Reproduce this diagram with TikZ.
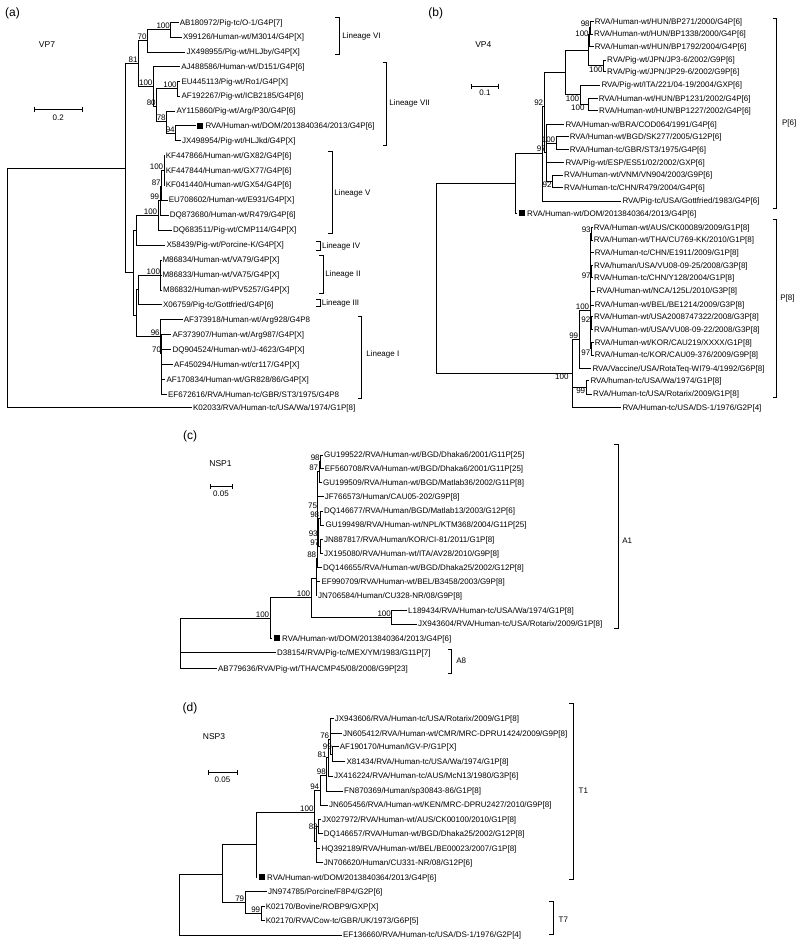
\documentclass[tikz,border=0pt]{standalone}
\usepackage{fontspec}
\setmainfont{Liberation Sans}
\newcommand{\dom}{\rule{6pt}{6pt}\hspace{2.5pt}}

\begin{document}
\begin{tikzpicture}[x=1pt, y=-1pt, line width=0.7pt,
    leaf/.style={anchor=west, inner xsep=1pt, inner ysep=0pt, text height=6pt, text depth=0.5pt, font=\fontsize{8}{9.6}\selectfont},
    bs/.style={inner sep=0.5pt, font=\fontsize{8}{9.6}\selectfont},
    grp/.style={anchor=west, inner sep=0pt, font=\fontsize{8}{9.6}\selectfont},
    gene/.style={inner sep=0pt, font=\fontsize{8.5}{10}\selectfont},
    panel/.style={inner sep=0pt, font=\fontsize{12}{14}\selectfont}]
    \useasboundingbox (0,0) rectangle (800,945);

    % (a) VP7
    \node[panel] (pa) at (12.5,13.3) {(a)};
    \node[gene] (ga) at (47,45) {VP7};
    \draw (34,106.5) -- (34,111.5) (34,109) -- (82,109) (82,106.5) -- (82,111.5);
    \node[bs] (sa) at (58.3,117.3) {0.2};

    \node[leaf] (a01) at (178.5,22.5) {AB180972/Pig-tc/O-1/G4P[7]};
    \node[leaf] (a02) at (181.8,37) {X99126/Human-wt/M3014/G4P[X]};
    \node[leaf] (a03) at (185.2,52) {JX498955/Pig-wt/HLJby/G4P[X]};
    \node[leaf] (a04) at (180,66.7) {AJ488586/Human-wt/D151/G4P[6]};
    \node[leaf] (a05) at (180.2,81.3) {EU445113/Pig-wt/Ro1/G4P[X]};
    \node[leaf] (a06) at (180.2,96.2) {AF192267/Pig-wt/ICB2185/G4P[6]};
    \node[leaf] (a07) at (175.2,111) {AY115860/Pig-wt/Arg/P30/G4P[6]};
    \node[leaf] (a08) at (195.7,125.8) {\dom RVA/Human-wt/DOM/2013840364/2013/G4P[6]};
    \node[leaf] (a09) at (180.8,140.7) {JX498954/Pig-wt/HLJkd/G4P[X]};
    \node[leaf] (a10) at (164.5,155.5) {KF447866/Human-wt/GX82/G4P[6]};
    \node[leaf] (a11) at (164.5,170.3) {KF447844/Human-wt/GX77/G4P[6]};
    \node[leaf] (a12) at (164.5,185) {KF041440/Human-wt/GX54/G4P[6]};
    \node[leaf] (a13) at (167.5,200) {EU708602/Human-wt/E931/G4P[X]};
    \node[leaf] (a14) at (168.5,215) {DQ873680/Human-wt/R479/G4P[6]};
    \node[leaf] (a15) at (171.8,230) {DQ683511/Pig-wt/CMP114/G4P[X]};
    \node[leaf] (a16) at (165.2,245) {X58439/Pig-wt/Porcine-K/G4P[X]};
    \node[leaf] (a17) at (161.2,260) {M86834/Human-wt/VA79/G4P[X]};
    \node[leaf] (a18) at (161.2,275) {M86833/Human-wt/VA75/G4P[X]};
    \node[leaf] (a19) at (161.8,290) {M86832/Human-wt/PV5257/G4P[X]};
    \node[leaf] (a20) at (161.8,304.3) {X06759/Pig-tc/Gottfried/G4P[6]};
    \node[leaf] (a21) at (182.5,319.3) {AF373918/Human-wt/Arg928/G4P8};
    \node[leaf] (a22) at (171.2,334.3) {AF373907/Human-wt/Arg987/G4P[X]};
    \node[leaf] (a23) at (171.2,349.3) {DQ904524/Human-wt/J-4623/G4P[X]};
    \node[leaf] (a24) at (172.8,364.3) {AF450294/Human-wt/cr117/G4P[X]};
    \node[leaf] (a25) at (165.2,379.3) {AF170834/Human-wt/GR828/86/G4P[X]};
    \node[leaf] (a26) at (166.8,394.3) {EF672616/RVA/Human-tc/GBR/ST3/1975/G4P8};
    \node[leaf] (a27) at (191.8,407.7) {K02033/RVA/Human-tc/USA/Wa/1974/G1P[8]};

    \coordinate (ra) at (7.3,290);
    \coordinate (a0) at (125,168);
    \coordinate[label={[bs]above left:81}] (a81) at (138.3,63);
    \coordinate[label={[bs]above left:70}] (a70) at (147.3,40);
    \coordinate[label={[bs]above left:100}] (a100a) at (170.7,29.7);
    \coordinate[label={[bs]above left:100}] (a100b) at (153.3,86);
    \coordinate[label={[bs]above left:80}] (a80) at (156.5,106);
    \coordinate[label={[bs]above left:100}] (a100c) at (177.5,88.8);
    \coordinate[label={[bs]above left:78}] (a78) at (166.5,121.5);
    \coordinate[label={[bs]above left:94}] (a94) at (175.5,133.2);
    \coordinate (aLo) at (133.3,272.8);
    \coordinate (aG) at (136.7,230);
    \coordinate[label={[bs]above left:100}] (aV) at (158,215);
    \coordinate[label={[bs]above left:99}] (aV99) at (160,200);
    \coordinate[label={[bs]above left:87}] (aV87) at (161.5,186);
    \coordinate[label={[bs]above left:100}] (aV100) at (164,170);
    \coordinate (aH) at (136.7,315.5);
    \coordinate (aJ) at (138.3,289.5);
    \coordinate[label={[bs]above left:100}] (aII) at (160.8,275);
    \coordinate[label={[bs]above left:96}] (aI) at (160.5,336.2);
    \coordinate[label={[bs]above left:70}] (aI70) at (161.8,353);

    \draw (ra) |- (a0) (ra) |- (a27);
    \draw (a0) |- (a81) (a0) |- (aLo);
    \draw (a81) |- (a70) (a81) |- (a100b);
    \draw (a70) |- (a100a) (a70) |- (a03);
    \draw (a100a) |- (a01) (a100a) |- (a02);
    \draw (a100b) |- (a04) (a100b) |- (a80);
    \draw (a80) |- (a100c) (a80) |- (a78);
    \draw (a100c) |- (a05) (a100c) |- (a06);
    \draw (a78) |- (a07) (a78) |- (a94);
    \draw (a94) |- (a08) (a94) |- (a09);
    \draw (aLo) |- (aG) (aLo) |- (aH);
    \draw (aG) |- (aV) (aG) |- (a16);
    \draw (aV) |- (aV99) (aV) |- (a15);
    \draw (aV99) |- (aV87) (aV99) |- (a14);
    \draw (aV87) |- (aV100) (aV87) |- (a13);
    \draw (aV100) |- (a10) (aV100) |- (a11) (aV100) |- (a12);
    \draw (aH) |- (aJ) (aH) |- (aI);
    \draw (aJ) |- (aII) (aJ) |- (a20);
    \draw (aII) |- (a17) (aII) |- (a18) (aII) |- (a19);
    \draw (aI) |- (a21) (aI) |- (aI70);
    \draw (aI70) |- (a22) (aI70) |- (a23) (aI70) |- (a24) (aI70) |- (a25) (aI70) |- (a26);

    \draw (335.3,17.3) -| (339.3,54) -- (335.3,54);
    \node[grp] (lin6) at (342,36.7) {Lineage VI};
    \draw (382.7,62) -| (386.7,145) -- (382.7,145);
    \node[grp] (lin7) at (389,103.3) {Lineage VII};
    \draw (328.3,151.7) -| (332.3,233.3) -- (328.3,233.3);
    \node[grp] (lin5) at (334,193.3) {Lineage V};
    \draw (316,241.7) -| (320,250) -- (316,250);
    \node[grp] (lin4) at (321.7,246) {Lineage IV};
    \draw (319.3,255.7) -| (323.3,293.3) -- (319.3,293.3);
    \node[grp] (lin2) at (325,274) {Lineage II};
    \draw (316,299.3) -| (320,306.7) -- (316,306.7);
    \node[grp] (lin3) at (321.5,303.3) {Lineage III};
    \draw (357.7,316.7) -| (361.7,398.3) -- (357.7,398.3);
    \node[grp] (lin1) at (366,354.3) {Lineage I};

    % (b) VP4
    \node[panel] (pb) at (435.8,13) {(b)};
    \node[gene] (gb) at (483.3,45) {VP4};
    \draw (471.7,83.5) -- (471.7,88.5) (471.7,86) -- (498.3,86) (498.3,83.5) -- (498.3,88.5);
    \node[bs] (sb) at (485,92.7) {0.1};

    \node[leaf] (b01) at (593.5,21.7) {RVA/Human-wt/HUN/BP271/2000/G4P[6]};
    \node[leaf] (b02) at (592.8,34) {RVA/Human-wt/HUN/BP1338/2000/G4P[6]};
    \node[leaf] (b03) at (593.5,46.7) {RVA/Human-wt/HUN/BP1792/2004/G4P[6]};
    \node[leaf] (b04) at (605.8,60) {RVA/Pig-wt/JPN/JP3-6/2002/G9P[6]};
    \node[leaf] (b05) at (605.8,71.7) {RVA/Pig-wt/JPN/JP29-6/2002/G9P[6]};
    \node[leaf] (b06) at (600.2,85) {RVA/Pig-wt/ITA/221/04-19/2004/GXP[6]};
    \node[leaf] (b07) at (597.5,98.3) {RVA/Human-wt/HUN/BP1231/2002/G4P[6]};
    \node[leaf] (b08) at (597.8,110.7) {RVA/Human-wt/HUN/BP1227/2002/G4P[6]};
    \node[leaf] (b09) at (564.2,124.3) {RVA/Human-w/BRA/COD064/1991/G4P[6]};
    \node[leaf] (b10) at (568.5,136.7) {RVA/Human-wt/BGD/SK277/2005/G12P[6]};
    \node[leaf] (b11) at (568.5,149.3) {RVA/Human-tc/GBR/ST3/1975/G4P[6]};
    \node[leaf] (b12) at (564.2,162.7) {RVA/Pig-wt/ESP/ES51/02/2002/GXP[6]};
    \node[leaf] (b13) at (562.8,175) {RVA/Human-wt/VNM/VN904/2003/G9P[6]};
    \node[leaf] (b14) at (562.8,187.7) {RVA/Human-tc/CHN/R479/2004/G4P[6]};
    \node[leaf] (b15) at (621.2,201) {RVA/Pig-tc/USA/Gottfried/1983/G4P[6]};
    \node[leaf] (b16) at (517.3,213.3) {\dom RVA/Human-wt/DOM/2013840364/2013/G4P[6]};
    \node[leaf] (b17) at (592.5,227.3) {RVA/Human-wt/AUS/CK00089/2009/G1P[8]};
    \node[leaf] (b18) at (592.5,240) {RVA/Human-wt/THA/CU769-KK/2010/G1P[8]};
    \node[leaf] (b19) at (593.5,252.7) {RVA/Human-tc/CHN/E1911/2009/G1P[8]};
    \node[leaf] (b20) at (592.8,265.7) {RVA/human/USA/VU08-09-25/2008/G3P[8]};
    \node[leaf] (b21) at (592.8,277.7) {RVA/Human-tc/CHN/Y128/2004/G1P[8]};
    \node[leaf] (b22) at (595.2,291) {RVA/Human-wt/NCA/125L/2010/G3P[8]};
    \node[leaf] (b23) at (593.5,305) {RVA/Human-wt/BEL/BE1214/2009/G3P[8]};
    \node[leaf] (b24) at (592.8,316.7) {RVA/Human-wt/USA2008747322/2008/G3P[8]};
    \node[leaf] (b25) at (592.8,329.3) {RVA/Human-wt/USA/VU08-09-22/2008/G3P[8]};
    \node[leaf] (b26) at (593.5,342.3) {RVA/Human-wt/KOR/CAU219/XXXX/G1P[8]};
    \node[leaf] (b27) at (593.5,355) {RVA/Human-tc/KOR/CAU09-376/2009/G9P[8]};
    \node[leaf] (b28) at (591.2,368.3) {RVA/Vaccine/USA/RotaTeq-WI79-4/1992/G6P[8]};
    \node[leaf] (b29) at (589.2,380.7) {RVA/human-tc/USA/Wa/1974/G1P[8]};
    \node[leaf] (b30) at (591.8,394) {RVA/Human-tc/USA/Rotarix/2009/G1P[8]};
    \node[leaf] (b31) at (621.2,407.3) {RVA/Human-tc/USA/DS-1/1976/G2P[4]};

    \coordinate (rb) at (436,278);
    \coordinate (bPD) at (515,183.3);
    \coordinate (bX) at (542.7,153.5);
    \coordinate[label={[bs]above left:92}] (b92) at (544,106);
    \coordinate (bA) at (565.7,72.7);
    \coordinate (bBJ) at (588,50);
    \coordinate[label={[bs]left:100}] (bBP) at (589.5,34.2);
    \coordinate[label={[bs]above left:98}] (b98) at (590.5,27.8);
    \coordinate[label={[bs]below left:100}] (bJP) at (603.3,65.8);
    \coordinate[label={[bs]below left:100}] (bITA) at (580,94.8);
    \coordinate[label={[bs,xshift=-3pt]below left:100}] (bBT) at (588.3,104.5);
    \coordinate[label={[bs]above left:97}] (b97) at (546.7,152.8);
    \coordinate[label={[bs]above left:100}] (bSK) at (556,143);
    \coordinate[label={[bs]below left:92}] (b92b) at (552.3,181.3);
    \coordinate[label={[bs,xshift=-3pt]below left:100}] (bP8) at (572.3,373);
    \coordinate[label={[bs]above left:99}] (b99) at (579,339.3);
    \coordinate[label={[bs]above left:100}] (bBig) at (590,310);
    \coordinate[label={[bs]above left:93}] (b93) at (591.5,233.6);
    \coordinate[label={[bs]below left:97}] (b97a) at (591.5,271.7);
    \coordinate[label={[bs]above left:92}] (b92c) at (591.2,323);
    \coordinate[label={[bs]below left:97}] (b97b) at (591.2,348.6);
    \coordinate[label={[bs]below left:99}] (bWR) at (586,387.3);

    \draw (rb) |- (bPD) (rb) |- (bP8);
    \draw (bPD) |- (bX) (bPD) |- (b16);
    \draw (bX) |- (b92) (bX) |- (b15);
    \draw (b92) |- (bA) (b92) |- (b97);
    \draw (bA) |- (bBJ) (bA) |- (bITA);
    \draw (bBJ) |- (bBP) (bBJ) |- (bJP);
    \draw (bBP) |- (b98) (bBP) |- (b03);
    \draw (b98) |- (b01) (b98) |- (b02);
    \draw (bJP) |- (b04) (bJP) |- (b05);
    \draw (bITA) |- (b06) (bITA) |- (bBT);
    \draw (bBT) |- (b07) (bBT) |- (b08);
    \draw (b97) |- (b09) (b97) |- (bSK) (b97) |- (b12) (b97) |- (b92b);
    \draw (bSK) |- (b10) (bSK) |- (b11);
    \draw (b92b) |- (b13) (b92b) |- (b14);
    \draw (bP8) |- (b99) (bP8) |- (bWR) (bP8) |- (b31);
    \draw (b99) |- (bBig) (b99) |- (b28);
    \draw (bBig) |- (b93) (bBig) |- (b19) (bBig) |- (b97a) (bBig) |- (b22) (bBig) |- (b23) (bBig) |- (b92c) (bBig) |- (b97b);
    \draw (b93) |- (b17) (b93) |- (b18);
    \draw (b97a) |- (b20) (b97a) |- (b21);
    \draw (b92c) |- (b24) (b92c) |- (b25);
    \draw (b97b) |- (b26) (b97b) |- (b27);
    \draw (bWR) |- (b29) (bWR) |- (b30);

    \draw (772.7,18.3) -| (776.7,208.3) -- (772.7,208.3);
    \node[grp] (p6) at (781.7,123.3) {P[6]};
    \draw (772.7,219.3) -| (776.7,397.3) -- (772.7,397.3);
    \node[grp] (p8) at (780,298) {P[8]};

    % (c) NSP1
    \node[panel] (pc) at (190,436) {(c)};
    \node[gene] (gc) at (220.5,464) {NSP1};
    \draw (210,484.2) -- (210,489.2) (210,486.7) -- (232.3,486.7) (232.3,484.2) -- (232.3,489.2);
    \node[bs] (sc) at (221,494) {0.05};

    \node[leaf] (c01) at (322.8,455) {GU199522/RVA/Human-wt/BGD/Dhaka6/2001/G11P[25]};
    \node[leaf] (c02) at (323.5,468.3) {EF560708/RVA/Human-wt/BGD/Dhaka6/2001/G11P[25]};
    \node[leaf] (c03) at (321.8,482.7) {GU199509/RVA/Human-wt/BGD/Matlab36/2002/G11P[8]};
    \node[leaf] (c04) at (323.5,496.7) {JF766573/Human/CAU05-202/G9P[8]};
    \node[leaf] (c05) at (322.8,511) {DQ146677/RVA/Human/BGD/Matlab13/2003/G12P[6]};
    \node[leaf] (c06) at (324.2,525) {GU199498/RVA/Human-wt/NPL/KTM368/2004/G11P[25]};
    \node[leaf] (c07) at (322.8,539.3) {JN887817/RVA/Human/KOR/CI-81/2011/G1P[8]};
    \node[leaf] (c08) at (322.8,553.3) {JX195080/RVA/Human-wt/ITA/AV28/2010/G9P[8]};
    \node[leaf] (c09) at (321.8,567.3) {DQ146655/RVA/Human-wt/BGD/Dhaka25/2002/G12P[8]};
    \node[leaf] (c10) at (320.2,581.7) {EF990709/RVA/Human-wt/BEL/B3458/2003/G9P[8]};
    \node[leaf] (c11) at (316.8,595.7) {JN706584/Human/CU328-NR/08/G9P[8]};
    \node[leaf] (c12) at (406.8,610.7) {L189434/RVA/Human-tc/USA/Wa/1974/G1P[8]};
    \node[leaf] (c13) at (416.8,624) {JX943604/RVA/Human-tc/USA/Rotarix/2009/G1P[8]};
    \node[leaf] (c14) at (272.3,638.3) {\dom RVA/Human-wt/DOM/2013840364/2013/G4P[6]};
    \node[leaf] (c15) at (275.8,652.3) {D38154/RVA/Pig-tc/MEX/YM/1983/G11P[7]};
    \node[leaf] (c16) at (216.8,668.3) {AB779636/RVA/Pig-wt/THA/CMP45/08/2008/G9P[23]};

    \coordinate (rc) at (180.7,640);
    \coordinate[label={[bs]above left:100}] (c100a) at (270,618.3);
    \coordinate[label={[bs]above left:100}] (c100b) at (311,597.7);
    \coordinate[label={[bs]above left:100}] (c100c) at (391.7,617.3);
    \coordinate (cA1) at (316,578);
    \coordinate[label={[bs]above left:88}] (c88) at (317,558);
    \coordinate[label={[bs]above left:75}] (c75) at (317.8,509);
    \coordinate[label={[bs]above left:87}] (c87) at (319,471.5);
    \coordinate[label={[bs]above left:98}] (c98a) at (320.5,461.7);
    \coordinate[label={[bs]above left:93}] (c93) at (318.5,537.5);
    \coordinate[label={[bs]above left:98}] (c98b) at (320,518);
    \coordinate[label={[bs]above left:97}] (c97) at (320,546.3);

    \draw (rc) |- (c100a) (rc) |- (c15) (rc) |- (c16);
    \draw (c100a) |- (c100b) (c100a) |- (c14);
    \draw (c100b) |- (cA1) (c100b) |- (c100c);
    \draw (c100c) |- (c12) (c100c) |- (c13);
    \draw (cA1) |- (c88) (cA1) |- (c10) (cA1) |- (c11);
    \draw (c88) |- (c75) (c88) |- (c09);
    \draw (c75) |- (c87) (c75) |- (c04) (c75) |- (c93);
    \draw (c87) |- (c98a) (c87) |- (c03);
    \draw (c98a) |- (c01) (c98a) |- (c02);
    \draw (c93) |- (c98b) (c93) |- (c97);
    \draw (c98b) |- (c05) (c98b) |- (c06);
    \draw (c97) |- (c07) (c97) |- (c08);

    \draw (614.3,444) -| (618.3,628) -- (614.3,628);
    \node[grp] (ca1) at (622,541) {A1};
    \draw (447.7,649) -| (451.7,673.3) -- (447.7,673.3);
    \node[grp] (ca8) at (456,661) {A8};

    % (d) NSP3
    \node[panel] (pd) at (190,708.3) {(d)};
    \node[gene] (gd) at (214,736.7) {NSP3};
    \draw (208.3,769.8) -- (208.3,774.8) (208.3,772.3) -- (237.3,772.3) (237.3,769.8) -- (237.3,774.8);
    \node[bs] (sd) at (222.5,779.5) {0.05};

    \node[leaf] (d01) at (333.5,718.3) {JX943606/RVA/Human-tc/USA/Rotarix/2009/G1P[8]};
    \node[leaf] (d02) at (341.8,733.3) {JN605412/RVA/Human-wt/CMR/MRC-DPRU1424/2009/G9P[8]};
    \node[leaf] (d03) at (338.5,746.7) {AF190170/Human/IGV-P/G1P[X]};
    \node[leaf] (d04) at (345.2,761.7) {X81434/RVA/Human-tc/USA/Wa/1974/G1P[8]};
    \node[leaf] (d05) at (332.8,776) {JX416224/RVA/Human-tc/AUS/McN13/1980/G3P[6]};
    \node[leaf] (d06) at (342.8,791) {FN870369/Human/sp30843-86/G1P[8]};
    \node[leaf] (d07) at (327.8,805) {JN605456/RVA/Human-wt/KEN/MRC-DPRU2427/2010/G9P[8]};
    \node[leaf] (d08) at (320.8,819.3) {JX027972/RVA/Human-wt/AUS/CK00100/2010/G1P[8]};
    \node[leaf] (d09) at (322.5,833.3) {DQ146657/RVA/Human-wt/BGD/Dhaka25/2002/G12P[8]};
    \node[leaf] (d10) at (320.2,848.3) {HQ392189/RVA/Human-wt/BEL/BE00023/2007/G1P[8]};
    \node[leaf] (d11) at (322.5,862.7) {JN706620/Human/CU331-NR/08/G12P[6]};
    \node[leaf] (d12) at (257.3,877.3) {\dom RVA/Human-wt/DOM/2013840364/2013/G4P[6]};
    \node[leaf] (d13) at (266.8,891.7) {JN974785/Porcine/F8P4/G2P[6]};
    \node[leaf] (d14) at (264.5,906.7) {K02170/Bovine/ROBP9/GXP[X]};
    \node[leaf] (d15) at (264.5,920.7) {K02170/RVA/Cow-tc/GBR/UK/1973/G6P[5]};
    \node[leaf] (d16) at (341.8,935) {EF136660/RVA/Human-tc/USA/DS-1/1976/G2P[4]};

    \coordinate (rd) at (179.3,900);
    \coordinate (dIn) at (222.7,874);
    \coordinate (dT) at (256,844.8);
    \coordinate[label={[bs]above left:100}] (d100) at (314.3,812.3);
    \coordinate[label={[bs]above left:94}] (d94) at (320,790);
    \coordinate[label={[bs]above left:98}] (d98) at (326.7,775);
    \coordinate[label={[bs,xshift=-1pt,yshift=-1pt]above left:81}] (d81) at (328.3,757.5);
    \coordinate[label={[bs]above left:76}] (d76) at (330,739);
    \coordinate[label={[bs,yshift=3.5pt]above left:99}] (d99) at (332.7,754.2);
    \coordinate (d83b) at (316.7,841);
    \coordinate[label={[bs]left:83}] (d83) at (318.5,826.3);
    \coordinate[label={[bs]above left:79}] (d79) at (245,902.7);
    \coordinate[label={[bs]above left:99}] (d99b) at (261,913.7);

    \draw (rd) |- (dIn) (rd) |- (d16);
    \draw (dIn) |- (dT) (dIn) |- (d79);
    \draw (dT) |- (d100) (dT) |- (d12);
    \draw (d100) |- (d94) (d100) |- (d83b);
    \draw (d94) |- (d98) (d94) |- (d07);
    \draw (d98) |- (d81) (d98) |- (d06);
    \draw (d81) |- (d76) (d81) |- (d05);
    \draw (d76) |- (d01) (d76) |- (d02) (d76) |- (d99);
    \draw (d99) |- (d03) (d99) |- (d04);
    \draw (d83b) |- (d83) (d83b) |- (d10) (d83b) |- (d11);
    \draw (d83) |- (d08) (d83) |- (d09);
    \draw (d79) |- (d13) (d79) |- (d99b);
    \draw (d99b) |- (d14) (d99b) |- (d15);

    \draw (569.3,703.3) -| (573.3,879.3) -- (569.3,879.3);
    \node[grp] (t1) at (578.3,791) {T1};
    \draw (549.3,901) -| (553.3,934) -- (549.3,934);
    \node[grp] (t7) at (558.3,920) {T7};
\end{tikzpicture}
\end{document}
